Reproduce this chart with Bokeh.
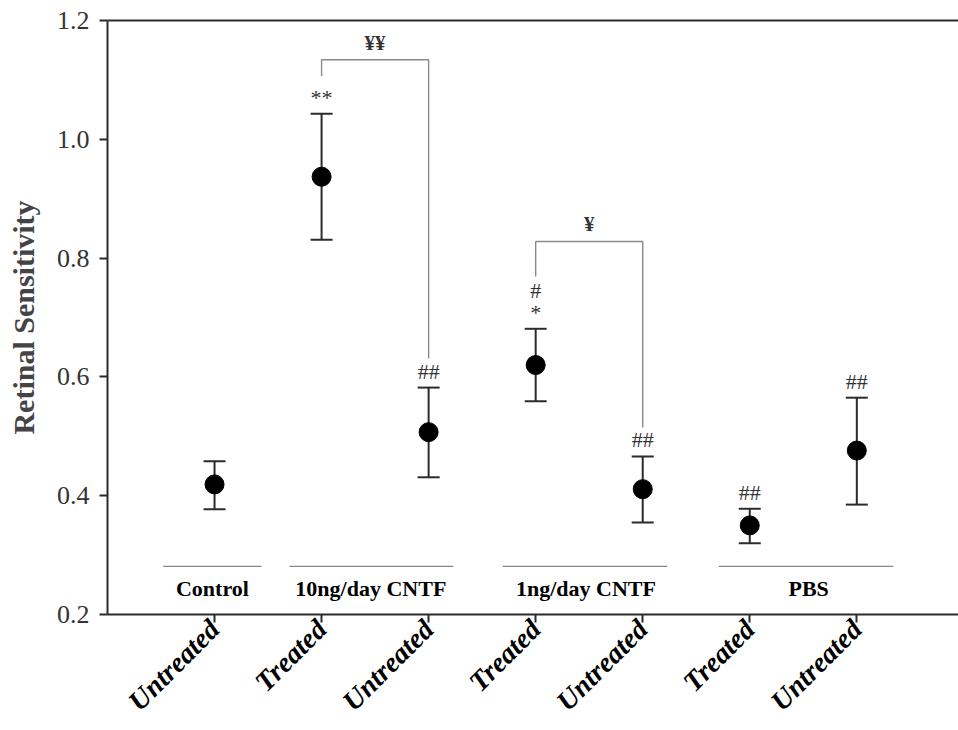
import math
from bokeh.plotting import figure
from bokeh.models import (Range1d, FixedTicker, LinearAxis, Whisker, TeeHead,
                          ColumnDataSource)
from bokeh.core.properties import value
from bokeh.embed import file_html
from bokeh.resources import INLINE

# ---- data ----
conditions = ["Untreated", "Treated", "Untreated", "Treated", "Untreated", "Treated", "Untreated"]
means = [0.419, 0.937, 0.507, 0.620, 0.411, 0.350, 0.476]
upper = [0.458, 1.043, 0.582, 0.681, 0.466, 0.378, 0.565]
lower = [0.377, 0.831, 0.431, 0.559, 0.355, 0.320, 0.385]
marks = ["", "**", "##", "*", "##", "##", "##"]
groups = ["Control", "10ng/day CNTF", "1ng/day CNTF", "PBS"]
y_ticks = [0.2, 0.4, 0.6, 0.8, 1.0, 1.2]

idx = list(range(len(conditions)))
SERIF = "Liberation Serif"
DARK = "#2b2b2b"

p = figure(width=958, height=730, output_backend="svg", toolbar_location=None,
           x_range=Range1d(-1, 6.95), y_range=Range1d(0.2, 1.2),
           min_border_left=107, min_border_right=0, min_border_top=20,
           min_border_bottom=116)
p.outline_line_color = None
p.grid.visible = False
p.background_fill_color = "white"
p.border_fill_color = "white"

# axes
p.xaxis.ticker = FixedTicker(ticks=idx)
p.xaxis.major_label_overrides = {i: c for i, c in enumerate(conditions)}
p.xaxis.major_label_orientation = math.pi / 4
p.xaxis.major_label_text_font = SERIF
p.xaxis.major_label_text_font_style = "bold italic"
p.xaxis.major_label_text_font_size = "28px"
p.xaxis.major_label_text_color = "black"
p.xaxis.minor_tick_line_color = None
p.xaxis.major_tick_out = 8
p.xaxis.major_tick_in = 0
p.xaxis.major_label_standoff = 2

p.yaxis.ticker = FixedTicker(ticks=y_ticks)
p.yaxis.major_label_overrides = {t: f"{t:.1f}" for t in y_ticks}
p.yaxis.major_label_text_font = SERIF
p.yaxis.major_label_text_font_size = "26px"
p.yaxis.major_label_text_color = "#333333"
p.yaxis.minor_tick_line_color = None
p.yaxis.major_tick_out = 8
p.yaxis.major_tick_in = 0
p.yaxis.major_label_standoff = 10
p.yaxis.axis_label = "Retinal Sensitivity"
p.yaxis.axis_label_text_font = SERIF
p.yaxis.axis_label_text_font_style = "bold"
p.yaxis.axis_label_text_font_size = "30px"
p.yaxis.axis_label_standoff = 14

for ax in (p.xaxis, p.yaxis):
    ax.axis_line_color = DARK
    ax.axis_line_width = 2
    ax.major_tick_line_color = DARK
    ax.major_tick_line_width = 2

top = LinearAxis(ticker=FixedTicker(ticks=[]), major_tick_line_color=None,
                 minor_tick_line_color=None, axis_line_color=DARK, axis_line_width=2,
                 major_label_text_font_size="0px")
p.add_layout(top, "above")

# error bars
src = ColumnDataSource(dict(x=idx, m=means, u=upper, l=lower, mk=marks))
wh = Whisker(source=src, base="x", upper="u", lower="l", dimension="height",
             line_color=DARK, line_width=2,
             upper_head=TeeHead(size=22, line_color=DARK, line_width=2),
             lower_head=TeeHead(size=22, line_color=DARK, line_width=2))
p.add_layout(wh)
p.scatter("x", "m", source=src, size=19, color="black")

# significance marks above error bars
p.text("x", "u", text="mk", source=src, text_font=value(SERIF), text_font_size="22px",
       text_color="#333333", text_align="center", text_baseline="bottom", y_offset=-4)
p.text([3], [upper[3]], text=["#"], text_font=value(SERIF), text_font_size="22px",
       text_color="#333333", text_align="center", text_baseline="bottom", y_offset=-26)

# brackets
BR = "#8a8a8a"
p.line([1, 1, 2, 2], [1.106, 1.134, 1.134, 0.631], line_color=BR, line_width=1.4)
p.line([3, 3, 4, 4], [0.769, 0.828, 0.828, 0.515], line_color=BR, line_width=1.4)
p.text([1.5], [1.134], text=["¥¥"], text_font=value(SERIF), text_font_style="bold",
       text_font_size="21px", text_color="#333333", text_align="center",
       text_baseline="bottom", y_offset=-5)
p.text([3.5], [0.828], text=["¥"], text_font=value(SERIF), text_font_style="bold",
       text_font_size="21px", text_color="#333333", text_align="center",
       text_baseline="bottom", y_offset=-5)

# group labels with lines
gx0 = [-0.48, 0.70, 2.69, 4.71]
gx1 = [0.44, 2.23, 4.23, 6.34]
gxc = [-0.02, 1.46, 3.47, 5.55]
p.segment(x0=gx0, y0=[0.281] * 4, x1=gx1, y1=[0.281] * 4, line_color="#888888", line_width=1.2)
p.text(gxc, [0.244] * 4, text=groups, text_font=value(SERIF), text_font_style="bold",
       text_font_size="22px", text_color="black", text_align="center", text_baseline="middle")

open("out.html", "w").write(file_html(p, INLINE))
